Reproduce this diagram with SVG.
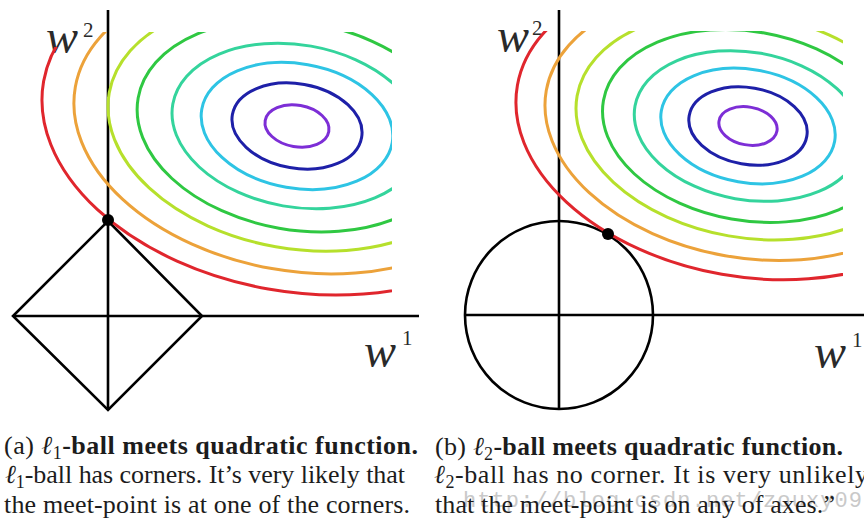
<svg xmlns="http://www.w3.org/2000/svg" xmlns:xlink="http://www.w3.org/1999/xlink" width="864" height="525" viewBox="0 0 864 525">
<style>
.ax{stroke:#000;stroke-width:2.6;fill:none}
.ring{fill:none;stroke-width:3;vector-effect:non-scaling-stroke}
.lbl{font-family:"Liberation Serif",serif;fill:#2a2a2a}
.w{font-style:italic;font-size:48px}
.sup{font-size:21px}
.cap{font-family:"Liberation Serif",serif;font-size:26px;fill:#1c1c1c}
.b{font-weight:bold}
.i{font-style:italic}
.sub{font-size:18px}
.wm{font-family:"Liberation Mono",monospace;font-size:22px;fill:#c9c9c9}
</style>
<defs>
<g id="rings" transform="rotate(10)">
<ellipse class="ring" rx="257.3" ry="165.5" stroke="#e0262d"/>
<ellipse class="ring" rx="225.1" ry="144.8" stroke="#eca23a"/>
<ellipse class="ring" rx="190.7" ry="122.6" stroke="#b6e02c"/>
<ellipse class="ring" rx="161.3" ry="103.8" stroke="#2fc842"/>
<ellipse class="ring" rx="126.1" ry="81.1" stroke="#34d49c"/>
<ellipse class="ring" rx="96.7" ry="62.2" stroke="#2ec4e4"/>
<ellipse class="ring" rx="65.6" ry="42.2" stroke="#1e20a8"/>
<ellipse class="ring" rx="32.3" ry="20.8" stroke="#7d2ed6"/>
</g>
<clipPath id="clipA"><path d="M0 47H70V32H392V335H0Z"/></clipPath>
<clipPath id="clipB"><rect x="432" y="31" width="411" height="300"/></clipPath>
</defs>
<rect width="864" height="525" fill="#fff"/>
<g id="panel-a">
<line class="ax" x1="108" y1="10" x2="108" y2="410"/>
<line class="ax" x1="13" y1="316" x2="419" y2="316"/>
<polygon id="l1-ball" class="ax" points="108,221 202,316 108,410 13,316"/>
<text class="lbl w" x="46" y="53">w</text>
<text class="lbl sup" x="83" y="37">2</text>
<text class="lbl w" x="364" y="367">w</text>
<text class="lbl sup" x="402" y="345">1</text>
<g clip-path="url(#clipA)"><use xlink:href="#rings" href="#rings" transform="translate(297 126)"/></g>
<circle cx="108" cy="220" r="6" fill="#000"/>
</g>
<g id="panel-b">
<line class="ax" x1="559" y1="10" x2="559" y2="410"/>
<line class="ax" x1="465" y1="315" x2="864" y2="315"/>
<circle id="l2-ball" class="ax" cx="559" cy="315" r="94"/>
<text class="lbl w" x="497" y="52">w</text>
<text class="lbl sup" x="532" y="35">2</text>
<text class="lbl w" x="814" y="368">w</text>
<text class="lbl sup" x="852" y="347">1</text>
<g clip-path="url(#clipB)"><use xlink:href="#rings" href="#rings" transform="translate(748 126) scale(0.91)"/></g>
<circle cx="608" cy="234" r="6" fill="#000"/>
</g>
<text class="wm" x="463" y="507" textLength="399">http://blog.csdn.net/zouxy09</text>
<g id="caption-a" class="cap">
<text x="4" y="454" textLength="414">(a) <tspan class="i">ℓ</tspan><tspan class="sub" dy="5">1</tspan><tspan class="b" dy="-5">-ball meets quadratic function.</tspan></text>
<text x="5" y="483" textLength="400"><tspan class="i">ℓ</tspan><tspan class="sub" dy="5">1</tspan><tspan dy="-5">-ball has corners. It’s very likely that</tspan></text>
<text x="4" y="513" textLength="406">the meet-point is at one of the corners.</text>
</g>
<g id="caption-b" class="cap">
<text x="435" y="455" textLength="408">(b) <tspan class="i">ℓ</tspan><tspan class="sub" dy="5">2</tspan><tspan class="b" dy="-5">-ball meets quadratic function.</tspan></text>
<text x="434" y="483" textLength="434"><tspan class="i">ℓ</tspan><tspan class="sub" dy="5">2</tspan><tspan dy="-5">-ball has no corner. It is very unlikely</tspan></text>
<text x="435" y="513" textLength="400">that the meet-point is on any of axes.”</text>
</g>
</svg>
